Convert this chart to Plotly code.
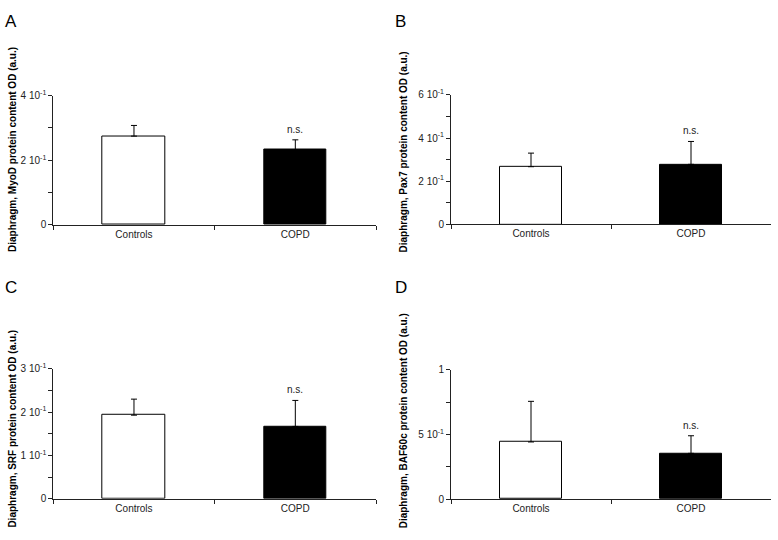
import plotly.graph_objects as go

categories = ["Controls", "COPD"]

myod_values = [0.2745, 0.233]
myod_errors = [0.033, 0.030]

pax7_values = [0.267, 0.278]
pax7_errors = [0.063, 0.106]

srf_values = [0.193, 0.167]
srf_errors = [0.037, 0.060]

baf60c_values = [0.442, 0.354]
baf60c_errors = [0.314, 0.136]

panel_letters = ["A", "B", "C", "D"]
y_titles = [
    "Diaphragm, MyoD protein content OD (a.u.)",
    "Diaphragm, Pax7 protein content OD (a.u.)",
    "Diaphragm, SRF protein content OD (a.u.)",
    "Diaphragm, BAF60c protein content OD (a.u.)",
]

tickvals_a = [0, 0.2, 0.4]
ticktext_a = ["0", "2 10<sup>-1</sup>", "4 10<sup>-1</sup>"]
minor_a = 0.1
tickvals_b = [0, 0.2, 0.4, 0.6]
ticktext_b = ["0", "2 10<sup>-1</sup>", "4 10<sup>-1</sup>", "6 10<sup>-1</sup>"]
minor_b = 0.1
tickvals_c = [0, 0.1, 0.2, 0.3]
ticktext_c = ["0", "1 10<sup>-1</sup>", "2 10<sup>-1</sup>", "3 10<sup>-1</sup>"]
minor_c = 0.05
tickvals_d = [0, 0.5, 1.0]
ticktext_d = ["0", "5 10<sup>-1</sup>", "1"]
minor_d = 0.25

panels = [
    (myod_values, myod_errors, tickvals_a, ticktext_a, minor_a),
    (pax7_values, pax7_errors, tickvals_b, ticktext_b, minor_b),
    (srf_values, srf_errors, tickvals_c, ticktext_c, minor_c),
    (baf60c_values, baf60c_errors, tickvals_d, ticktext_d, minor_d),
]

W, H = 778, 540
FONT = "Arial, Liberation Sans, sans-serif"

# pixel geometry of plot areas: (left, right, top, bottom)
areas = [
    (53.3, 376, 90.7, 223.3),
    (451, 771, 90, 222.7),
    (53.3, 376, 370.7, 504),
    (451, 771, 371.7, 504.3),
]
letter_pos = [(3, 3), (393, 3), (3, 276), (393, 276)]
title_pos = [(13, 146.5), (403, 148), (13, 432), (403, 423.5)]

fig = go.Figure()
layout = dict(
    width=W, height=H,
    margin=dict(l=0, r=0, t=0, b=0),
    paper_bgcolor="white", plot_bgcolor="white",
    showlegend=False,
    bargap=0,
    annotations=[],
)

for i, (vals, errs, tv, tt, mstep) in enumerate(panels):
    sfx = "" if i == 0 else str(i + 1)
    xa, ya = "x" + sfx, "y" + sfx
    fig.add_trace(go.Bar(
        x=categories, y=vals, xaxis=xa, yaxis=ya,
        width=0.39,
        marker=dict(color=["white", "black"], line=dict(color="black", width=1)),
        error_y=dict(type="data", array=errs, arrayminus=[0, 0], symmetric=False,
                     color="black", thickness=1, width=3),
        hoverinfo="skip",
    ))
    l, r, t, b = areas[i]
    layout["xaxis" + sfx] = dict(
        domain=[l / W, r / W], anchor=ya,
        type="category", range=[-0.5, 1.5],
        tickson="boundaries", ticks="outside", ticklen=4, tickcolor="#222",
        showline=True, linecolor="#222", linewidth=1,
        showgrid=False, zeroline=False,
        tickfont=dict(family=FONT, size=10, color="#222"),
        fixedrange=True,
    )
    layout["yaxis" + sfx] = dict(
        domain=[1 - b / H, 1 - t / H], anchor=xa,
        range=[0, tv[-1]], tickmode="array", tickvals=tv, ticktext=tt,
        ticks="outside", ticklen=4, tickcolor="#222",
        minor=dict(tick0=0, dtick=mstep, ticks="outside", ticklen=4,
                   tickcolor="#222", showgrid=False),
        showline=True, linecolor="#222", linewidth=1,
        showgrid=False, zeroline=False,
        tickfont=dict(family=FONT, size=10, color="#222"),
        fixedrange=True,
    )
    # n.s. annotation above COPD error bar
    layout["annotations"].append(dict(
        x="COPD", y=vals[1] + errs[1], xref=xa, yref=ya,
        text="n.s.", showarrow=False, yanchor="bottom", yshift=3,
        font=dict(family=FONT, size=10, color="#222"),
    ))
    lx, ly = letter_pos[i]
    layout["annotations"].append(dict(
        x=lx / W, y=1 - ly / H, xref="paper", yref="paper",
        text=panel_letters[i], showarrow=False, xanchor="left", yanchor="top",
        font=dict(family=FONT, size=17, color="black"),
    ))
    tx, ty = title_pos[i]
    layout["annotations"].append(dict(
        x=tx / W, y=1 - ty / H, xref="paper", yref="paper",
        text="<b>" + y_titles[i] + "</b>", showarrow=False, textangle=-90,
        xanchor="center", yanchor="middle",
        font=dict(family=FONT, size=10, color="black"),
    ))

fig.update_layout(**layout)
fig.write_html("out.html", config={"displayModeBar": False},
               post_script="document.body.style.margin='0';")
